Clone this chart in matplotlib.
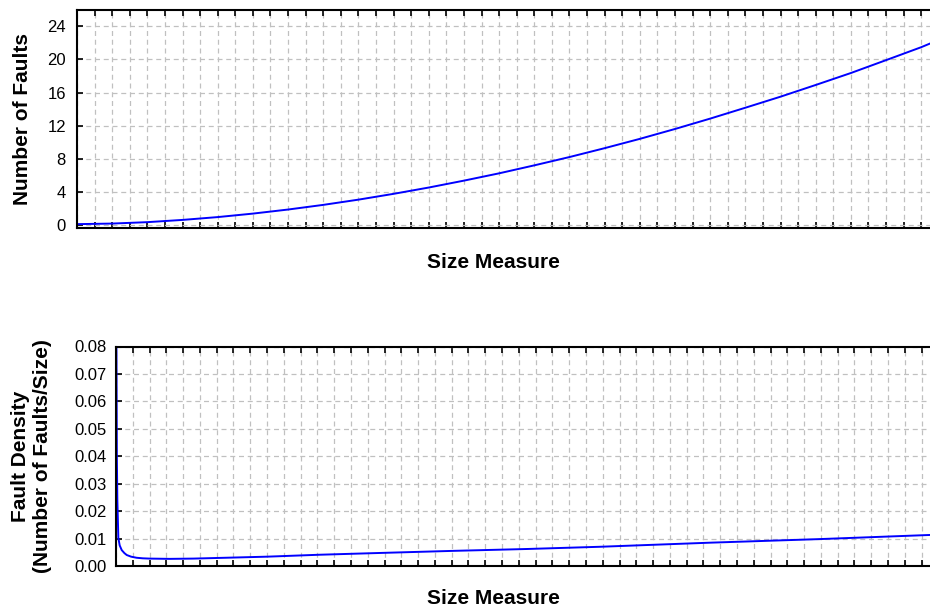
import matplotlib
matplotlib.use("Agg")
import matplotlib.pyplot as plt

# ---- data (x in size-measure grid units) ----
size_top = [0, 2, 4, 6, 8, 10, 12, 14, 16, 18, 20, 22, 24, 26, 28, 30, 32,
            34, 36, 38, 40, 42, 44, 46, 48, 48.5]
faults = [0.15, 0.22, 0.39, 0.66, 1.0, 1.42, 1.91, 2.47, 3.10, 3.80, 4.56,
          5.39, 6.27, 7.23, 8.23, 9.30, 10.42, 11.61, 12.86, 14.17, 15.50,
          16.91, 18.35, 19.90, 21.46, 21.9]

size_bot = [0.02, 0.05, 0.08, 0.14, 0.22, 0.34, 0.5, 0.64, 0.9, 1.23, 1.6,
            2.0, 2.6, 3.2, 4.6, 6.5, 9.0, 12.1, 16, 20, 24.5, 28.8, 35.4,
            41.9, 48.45]
density = [0.09, 0.04, 0.024, 0.0102, 0.0075, 0.0058, 0.0047, 0.004,
           0.0034, 0.003, 0.0028, 0.0027, 0.00265, 0.0026, 0.0027, 0.003,
           0.0034, 0.0041, 0.0048, 0.0055, 0.0062, 0.0070, 0.0085, 0.0098,
           0.0113]

top_yticks = [0, 4, 8, 12, 16, 20, 24]
top_yticklabels = ["0", "4", "8", "12", "16", "20", "24"]
bot_yticks = [0.00, 0.01, 0.02, 0.03, 0.04, 0.05, 0.06, 0.07, 0.08]
bot_yticklabels = ["0.00", "0.01", "0.02", "0.03", "0.04", "0.05", "0.06",
                   "0.07", "0.08"]
x_gridpos = list(range(0, 49))

xlabel = "Size Measure"
ylabel_top = "Number of Faults"
ylabel_bot = "Fault Density\n(Number of Faults/Size)"

plt.rcParams['font.family'] = ['Liberation Sans', 'DejaVu Sans']

W, H = 930, 612
fig = plt.figure(figsize=(W / 100, H / 100), dpi=100)

def px_axes(l, t, r, b):
    return fig.add_axes([l / W, (H - b) / H, (r - l) / W, (b - t) / H])

ax1 = px_axes(77, 9.5, 930, 228.3)
ax2 = px_axes(116, 346.5, 930, 566)

def style(ax, yticks, ylabels, ylim, pad):
    ax.set_xlim(0, 48.5)
    ax.set_ylim(*ylim)
    ax.set_xticks(x_gridpos)
    ax.set_xticklabels([])
    ax.set_yticks(yticks)
    ax.set_yticklabels(ylabels)
    ax.tick_params(axis='x', direction='in', top=True, bottom=True,
                   length=4, width=1.2, color='black')
    ax.tick_params(axis='y', direction='in', left=True, right=False,
                   length=4, width=1.2, labelsize=12, pad=pad)
    ax.grid(True, color='#c0c0c0', linestyle=(0, (4, 3)), linewidth=0.9)
    ax.set_axisbelow(True)
    for s in ['left', 'top', 'bottom']:
        ax.spines[s].set_linewidth(1.5)
        ax.spines[s].set_color('black')
    ax.spines['right'].set_visible(False)

style(ax1, top_yticks, top_yticklabels, (-0.35, 26), 8)
style(ax2, bot_yticks, bot_yticklabels, (0, 0.08), 7)

ax1.plot(size_top, faults, color='#0000ff', linewidth=1.4)
ax2.plot(size_bot, density, color='#0000ff', linewidth=1.4)

fig.text(493 / W, (H - 262) / H, xlabel, ha='center', va='center',
         fontsize=15, fontweight='bold')
fig.text(493 / W, (H - 598) / H, xlabel, ha='center', va='center',
         fontsize=15, fontweight='bold')
fig.text(22 / W, (H - 119) / H, ylabel_top, ha='center', va='center',
         rotation=90, fontsize=15, fontweight='bold')
fig.text(31 / W, (H - 456) / H, ylabel_bot, ha='center', va='center',
         rotation=90, fontsize=15, fontweight='bold', multialignment='center')

fig.savefig("out.png", dpi=100)
